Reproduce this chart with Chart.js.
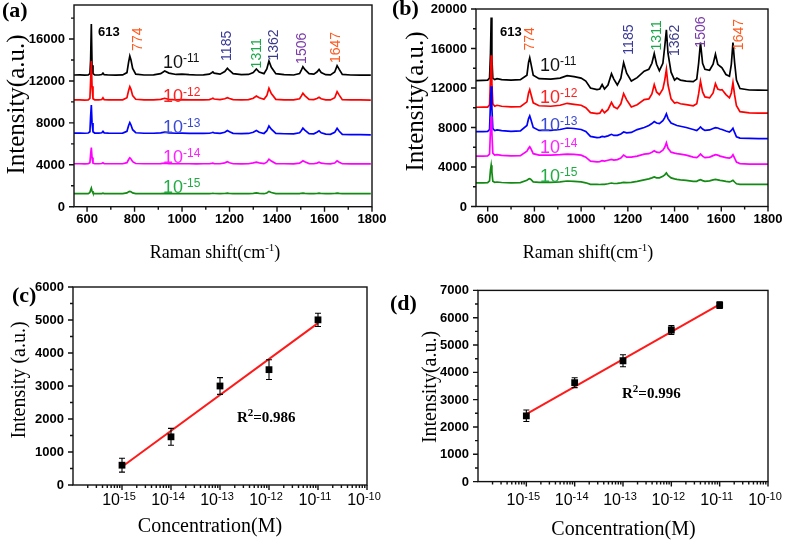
<!DOCTYPE html>
<html><head><meta charset="utf-8">
<script src="https://cdn.jsdelivr.net/npm/chart.js@4.4.1/dist/chart.umd.min.js"></script>
<style>
html,body{margin:0;padding:0;background:#fff;}
#wrap{position:relative;width:787px;height:547px;overflow:hidden;background:#fff;}
#wrap canvas{position:absolute;left:0;top:0;}
</style></head><body>
<div id="wrap">
<canvas id="ca" width="787" height="547"></canvas>
<canvas id="cb" width="787" height="547"></canvas>
<canvas id="cc" width="787" height="547"></canvas>
<canvas id="cd" width="787" height="547"></canvas>
</div>
<script>
// ---------------- DATA ----------------
// Panel (a): Raman shift grid and intensities for 10^-11 ... 10^-15 M
const shiftA = [545,570,590,605,612,615,618,621,625,632,650,662,667,672,690,720,750,768,775,780,785,792,805,840,880,910,927,945,975,1000,1030,1060,1090,1115,1125,1130,1135,1160,1180,1191,1200,1215,1250,1280,1300,1313,1325,1345,1357,1366,1376,1395,1430,1470,1495,1502,1509,1517,1535,1555,1568,1577,1586,1605,1625,1643,1653,1662,1675,1710,1750,1795];
const a_e11 = [12570,12580,12560,12580,12700,14000,17430,13500,12700,12580,12570,12620,12750,12600,12570,12560,12580,12800,13800,14380,14000,13200,12650,12570,12580,12700,12950,12750,12620,12650,12600,12570,12580,12650,12780,12860,12750,12650,12900,13210,13000,12700,12600,12620,12800,13140,12850,12700,13150,13900,13300,12700,12600,12570,12700,13000,13360,13100,12700,12650,12850,13100,12800,12600,12580,12850,13460,13100,12620,12570,12560,12560];
const a_e12 = [10190,10200,10180,10200,10350,12000,13900,11500,10300,10200,10190,10230,10400,10220,10190,10190,10200,10400,11100,11460,11200,10600,10250,10190,10190,10250,10350,10250,10200,10210,10200,10190,10190,10220,10300,10350,10280,10220,10300,10410,10330,10220,10200,10220,10350,10570,10400,10250,10600,11300,10800,10250,10200,10190,10300,10550,10830,10600,10250,10220,10330,10440,10300,10200,10190,10400,10980,10650,10220,10190,10190,10180];
const a_e13 = [7020,7030,7010,7030,7150,8600,9710,8000,7150,7030,7020,7060,7200,7050,7020,7010,7020,7200,7750,8030,7800,7350,7060,7010,7010,7050,7120,7050,7010,7020,7000,6990,6990,7010,7060,7100,7050,7000,7100,7270,7150,7000,6980,6990,7100,7270,7100,6990,7250,7710,7400,7000,6960,6950,7050,7250,7490,7300,6980,6950,7100,7240,7050,6930,6910,7100,7490,7200,6900,6880,6870,6860];
const a_e14 = [4100,4100,4090,4100,4200,5000,5650,4700,4150,4100,4100,4120,4200,4110,4100,4100,4100,4200,4500,4670,4550,4300,4120,4100,4100,4110,4150,4110,4100,4100,4100,4090,4100,4100,4130,4150,4120,4100,4180,4290,4200,4100,4090,4100,4180,4250,4180,4110,4250,4540,4350,4120,4100,4090,4150,4260,4380,4280,4110,4100,4160,4250,4150,4100,4090,4170,4380,4250,4100,4090,4090,4090];
const a_e15 = [1240,1250,1240,1250,1350,1600,1780,1500,1300,1250,1240,1250,1290,1250,1240,1240,1250,1320,1420,1460,1420,1320,1250,1240,1240,1250,1280,1250,1240,1240,1240,1240,1240,1240,1260,1280,1260,1240,1260,1290,1260,1240,1240,1240,1270,1310,1270,1240,1310,1460,1350,1250,1240,1240,1250,1280,1300,1270,1240,1240,1260,1290,1260,1240,1240,1260,1300,1270,1240,1240,1240,1240];

// Panel (b)
const shiftB = [550,580,600,608,612,615,618,622,630,640,660,700,740,768,775,780,785,795,820,870,910,940,970,1000,1020,1040,1068,1080,1090,1100,1115,1130,1140,1155,1170,1182,1195,1215,1240,1270,1290,1303,1313,1323,1335,1350,1358,1365,1372,1385,1400,1410,1425,1450,1480,1495,1503,1511,1520,1530,1550,1565,1575,1585,1595,1603,1620,1635,1643,1650,1657,1665,1680,1720,1760,1800];
const b_e11 = [12750,12780,12800,13000,15500,19150,15000,13000,12850,12950,12850,12800,12850,13300,14600,15070,14500,13300,12950,12900,13000,13250,13150,13000,12700,12000,11840,11900,12350,11900,12300,13440,12900,12300,13000,14560,13500,12700,13050,13700,13900,14500,15480,14400,13750,14500,16200,17890,15500,13600,12800,13000,12800,12700,12650,12900,14500,16600,14500,13900,13800,14400,15410,14400,14200,14050,13370,13200,14400,16600,14600,12800,11950,11800,11780,11770];
const b_e12 = [10050,10060,10070,10300,13000,15310,12500,10400,10150,10250,10150,10080,10100,10600,11500,11840,11400,10500,10200,10150,10250,10450,10350,10250,10000,9500,9400,9450,9800,9500,9800,10540,10100,9900,10400,11430,10800,10070,10300,10820,10900,11400,12350,11600,11330,11900,12800,13880,12300,10900,10480,10550,10400,10310,10200,10400,11400,12690,11600,11100,11000,11500,12450,11900,11800,11840,11330,11000,11500,12550,11300,10200,9600,9480,9460,9460];
const b_e13 = [7580,7590,7600,7800,10500,12170,10000,7900,7700,7750,7680,7600,7650,8200,8900,9180,8800,8000,7700,7700,7800,7950,7900,7800,7600,7100,6970,7000,7100,7050,7150,7310,7200,7200,7350,7540,7450,7500,7790,8000,8200,8400,8600,8450,8400,8700,9000,9390,8900,8450,8300,8200,8130,8000,7800,7700,7850,8060,7850,7700,7750,7900,7990,7950,7850,7800,7650,7550,7700,7930,7500,7050,6920,6900,6880,6870];
const b_e14 = [5100,5100,5120,5300,7800,9110,7500,5400,5200,5250,5180,5120,5150,5600,5900,6050,5850,5350,5200,5200,5250,5310,5280,5200,5000,4600,4520,4550,4650,4600,4680,4760,4700,4750,4900,5200,5000,5000,5100,5300,5350,5500,5640,5500,5450,5700,6000,6460,5900,5500,5400,5350,5300,5200,5000,4950,5100,5310,5100,4950,5000,5150,5250,5200,5100,5050,4950,4900,5000,5250,4900,4500,4350,4300,4290,4290];
const b_e15 = [2400,2400,2420,2600,3700,4180,3500,2550,2450,2480,2430,2400,2420,2650,2780,2820,2750,2500,2450,2450,2500,2580,2550,2500,2400,2250,2240,2230,2250,2250,2300,2380,2330,2350,2400,2450,2420,2450,2550,2700,2800,2900,2990,2900,2900,3050,3200,3400,3150,2900,2800,2750,2700,2650,2550,2550,2650,2720,2620,2550,2600,2700,2750,2700,2650,2620,2550,2500,2550,2650,2480,2300,2250,2240,2240,2240];

// Panels (c), (d): calibration
const concM = [1e-15, 1e-14, 1e-13, 1e-12, 1e-11];
const intensityC = [600, 1460, 3000, 3495, 5005];
const errorC = [210, 255, 255, 300, 200];
const fitConc = [1e-15, 1e-11];
const fitC = [555, 4905];
const intensityD = [2410, 3620, 4425, 5550, 6460];
const errorD = [210, 180, 220, 160, 120];
const fitD = [2470, 6485];

// labels / ticks
const concNames = ['-11', '-12', '-13', '-14', '-15'];
const peakNames = ['774', '1185', '1311', '1362', '1506', '1647'];
const shiftTicks = [600, 800, 1000, 1200, 1400, 1600, 1800];
const shiftMinor = [700, 900, 1100, 1300, 1500, 1700];
const yTicksA = [0, 4000, 8000, 12000, 16000];
const yMinorA = [2000, 6000, 10000, 14000, 18000];
const yTicksB = [0, 4000, 8000, 12000, 16000, 20000];
const yMinorB = [2000, 6000, 10000, 14000, 18000];
const yTicksC = [0, 1000, 2000, 3000, 4000, 5000, 6000];
const yTicksD = [0, 1000, 2000, 3000, 4000, 5000, 6000, 7000];
const concTicks = [1e-15, 1e-14, 1e-13, 1e-12, 1e-11, 1e-10];
const concTickExp = ['-15', '-14', '-13', '-12', '-11', '-10'];

// ---------------- STYLE / LAYOUT ----------------
const FS = "'Liberation Sans', Arial, sans-serif";
const FT = "'Liberation Serif', 'Times New Roman', serif";
const LINE_COLORS = ['#000000', '#ff0000', '#0000ff', '#ff00ff', '#138a13'];
const CONC_COLORS = ['#111111', '#ff2020', '#3a4ad0', '#ff20ff', '#22aa44'];
const PEAK_COLORS = ['#ff5a1f', '#3a3a9a', '#1aa84a', '#3a3a8a', '#7a3aa8', '#ff5a1f'];
const AREA = {
  ca: {l: 74, t: 5, r: 372, b: 206.7},
  cb: {l: 476, t: 9, r: 768, b: 206.5},
  cc: {l: 73, t: 287, r: 367, b: 485},
  cd: {l: 478, t: 290.4, r: 768, b: 481.6}
};
function padOf(A) { return {left: A.l, top: A.t, right: 787 - A.r, bottom: 547 - A.b}; }

function minorLog() {
  const out = [];
  for (let e = -16; e <= -11; e++) for (let m = 2; m <= 9; m++) out.push(m * Math.pow(10, e));
  return out;
}
function minorHalf(ticks) { return ticks.slice(0, -1).map((v, i) => (v + ticks[i + 1]) / 2); }

// positions of text annotations (data coordinates)
const DECO = {
  ca: {
    yMajor: yTicksA, yMinor: yMinorA, xMajor: shiftTicks, xMinor: shiftMinor, xLabelY: 223,
    xTitle: {x: 215, y: 257.5, parts: [['Raman shift(cm', '18px ' + FT, 0], ['-1', '11px ' + FT, -6.5], [')', '18px ' + FT, 0]]},
    yTitle: {x: 17.5, y: 104.5, text: 'Intensity(a.u.)', font: '25px ' + FT},
    panel: {x: 2, y: 17, text: '(a)'},
    p613: {x: 646, y: 16290},
    peaks: [[814, 15983], [1191, 15353], [1318, 14637], [1386, 15430], [1506, 15115], [1647.5, 15191]],
    conc: {x: 920, ys: [13235, 9990, 7004, 4170, 1307]}
  },
  cb: {
    yMajor: yTicksB, yMinor: yMinorB, xMajor: shiftTicks, xMinor: shiftMinor, xLabelY: 223,
    xTitle: {x: 588, y: 257.5, parts: [['Raman shift(cm', '18px ' + FT, 0], ['-1', '11px ' + FT, -6.5], [')', '18px ' + FT, 0]]},
    yTitle: {x: 416, y: 101.5, text: 'Intensity(a.u.)', font: '25px ' + FT},
    panel: {x: 392, y: 15, text: '(b)'},
    p613: {x: 653, y: 17239},
    peaks: [[783, 16985], [1206, 16904], [1327, 17330], [1402, 16822], [1512, 17665], [1677, 17411]],
    conc: {x: 824, ys: [13685, 10477, 7695, 5401, 2518]}
  },
  cc: {
    yMajor: yTicksC, yMinor: minorHalf(yTicksC), xMajor: concTicks, xMinor: minorLog(), log: true, xLabelY: 505,
    xTitle: {x: 210, y: 532, parts: [['Concentration(M)', '20px ' + FT, 0]]},
    yTitle: {x: 20, y: 380, text: 'Intensity (a.u.)', font: '20px ' + FT},
    panel: {x: 12, y: 302, text: '(c)'},
    r2: {x: 2.22e-13, y: 1918, text: '=0.986'},
    err: {v: intensityC, e: errorC}
  },
  cd: {
    yMajor: yTicksD, yMinor: minorHalf(yTicksD), xMajor: concTicks, xMinor: minorLog(), log: true, xLabelY: 505,
    xTitle: {x: 623.5, y: 535, parts: [['Concentration(M)', '20px ' + FT, 0]]},
    yTitle: {x: 431, y: 387, text: 'Intensity(a.u.)', font: '20px ' + FT},
    panel: {x: 390, y: 310, text: '(d)'},
    r2: {x: 9.55e-14, y: 3061, text: '=0.996'},
    err: {v: intensityD, e: errorD}
  }
};

function rich(ctx, x, y, parts, align) {
  let total = 0;
  const w = parts.map(p => { ctx.font = p[1]; const m = ctx.measureText(p[0]).width; total += m; return m; });
  let cx = align === 'center' ? x - total / 2 : x;
  ctx.textAlign = 'left';
  parts.forEach((p, i) => { ctx.font = p[1]; ctx.fillText(p[0], cx, y + p[2]); cx += w[i]; });
}

const decoPlugin = {
  id: 'deco',
  afterDatasetsDraw(chart) {
    const D = DECO[chart.canvas.id];
    if (!D.err) return;
    const ctx = chart.ctx, xs = chart.scales.x, ys = chart.scales.y;
    ctx.save();
    ctx.strokeStyle = '#000'; ctx.lineWidth = 1.1;
    ctx.beginPath();
    concM.forEach((c, i) => {
      const px = xs.getPixelForValue(c);
      const y1 = ys.getPixelForValue(D.err.v[i] + D.err.e[i]);
      const y2 = ys.getPixelForValue(D.err.v[i] - D.err.e[i]);
      ctx.moveTo(px, y1); ctx.lineTo(px, y2);
      ctx.moveTo(px - 3, y1); ctx.lineTo(px + 3, y1);
      ctx.moveTo(px - 3, y2); ctx.lineTo(px + 3, y2);
    });
    ctx.stroke();
    ctx.restore();
  },
  afterDraw(chart) {
    const D = DECO[chart.canvas.id];
    const ctx = chart.ctx, a = chart.chartArea, xs = chart.scales.x, ys = chart.scales.y;
    ctx.save();
    // frame
    ctx.strokeStyle = '#111'; ctx.lineWidth = 1.4;
    ctx.strokeRect(a.left, a.top, a.right - a.left, a.bottom - a.top);
    // ticks
    ctx.beginPath();
    D.yMajor.forEach(v => { const p = ys.getPixelForValue(v); ctx.moveTo(a.left, p); ctx.lineTo(a.left - 5, p); });
    D.yMinor.forEach(v => { const p = ys.getPixelForValue(v); ctx.moveTo(a.left, p); ctx.lineTo(a.left - 3, p); });
    D.xMajor.forEach(v => { const p = xs.getPixelForValue(v); ctx.moveTo(p, a.bottom); ctx.lineTo(p, a.bottom + 5); });
    D.xMinor.forEach(v => { const p = xs.getPixelForValue(v); if (p > a.left && p < a.right) { ctx.moveTo(p, a.bottom); ctx.lineTo(p, a.bottom + 3); } });
    ctx.stroke();
    // y tick labels
    ctx.fillStyle = '#000';
    ctx.font = 'bold 13px ' + FS; ctx.textAlign = 'right'; ctx.textBaseline = 'middle';
    D.yMajor.forEach(v => ctx.fillText(String(v), a.left - 9, ys.getPixelForValue(v) + 0.5));
    // x tick labels
    ctx.textBaseline = 'alphabetic';
    if (D.log) {
      concTicks.forEach((v, i) => rich(ctx, xs.getPixelForValue(v) - 3, D.xLabelY,
        [['10', '16px ' + FS, 0], [concTickExp[i], '11px ' + FS, -5.5]], 'center'));
    } else {
      ctx.font = 'bold 13px ' + FS; ctx.textAlign = 'center';
      D.xMajor.forEach(v => ctx.fillText(String(v), xs.getPixelForValue(v), D.xLabelY));
    }
    // axis titles
    rich(ctx, D.xTitle.x, D.xTitle.y, D.xTitle.parts, 'center');
    ctx.save();
    ctx.translate(D.yTitle.x, D.yTitle.y); ctx.rotate(-Math.PI / 2);
    ctx.font = D.yTitle.font; ctx.textAlign = 'center'; ctx.textBaseline = 'middle';
    ctx.fillText(D.yTitle.text, 0, 0);
    ctx.restore();
    // panel letter
    ctx.font = 'bold 22px ' + FT; ctx.textAlign = 'left'; ctx.textBaseline = 'alphabetic';
    ctx.fillText(D.panel.text, D.panel.x, D.panel.y);
    // spectrum annotations
    if (D.peaks) {
      ctx.fillStyle = '#000'; ctx.font = 'bold 13px ' + FS; ctx.textAlign = 'left';
      ctx.fillText('613', xs.getPixelForValue(D.p613.x), ys.getPixelForValue(D.p613.y));
      D.peaks.forEach((p, i) => {
        ctx.save();
        ctx.translate(xs.getPixelForValue(p[0]), ys.getPixelForValue(p[1]));
        ctx.rotate(-Math.PI / 2);
        ctx.fillStyle = PEAK_COLORS[i]; ctx.font = '14px ' + FS;
        ctx.textAlign = 'center'; ctx.textBaseline = 'middle';
        ctx.fillText(peakNames[i], 0, 0);
        ctx.restore();
      });
      D.conc.ys.forEach((yv, i) => {
        ctx.fillStyle = CONC_COLORS[i];
        rich(ctx, xs.getPixelForValue(D.conc.x), ys.getPixelForValue(yv),
          [['10', '18px ' + FS, 0], [concNames[i], '12px ' + FS, -6]], 'left');
      });
    }
    if (D.r2) {
      ctx.fillStyle = '#000';
      rich(ctx, xs.getPixelForValue(D.r2.x), ys.getPixelForValue(D.r2.y),
        [['R', 'bold 15px ' + FT, 0], ['2', 'bold 11px ' + FT, -6], [D.r2.text, 'bold 15px ' + FT, 0]], 'left');
    }
    ctx.restore();
  }
};

function spectrum(id, xs, series, xMin, yMax) {
  return new Chart(document.getElementById(id), {
    type: 'line',
    data: {
      datasets: series.map((arr, i) => ({
        data: xs.map((x, j) => ({x: x, y: arr[j]})),
        borderColor: LINE_COLORS[i], borderWidth: 1.7, pointRadius: 0, tension: 0, fill: false, order: 5 - i
      }))
    },
    options: {
      responsive: false, animation: false, devicePixelRatio: 1, events: [],
      layout: {padding: padOf(AREA[id])},
      plugins: {legend: {display: false}, tooltip: {enabled: false}},
      scales: {
        x: {type: 'linear', min: xMin, max: 1800, display: false},
        y: {type: 'linear', min: 0, max: yMax, display: false}
      }
    },
    plugins: [decoPlugin]
  });
}

function calib(id, vals, fit, yMax) {
  return new Chart(document.getElementById(id), {
    type: 'scatter',
    data: {
      datasets: [
        {data: concM.map((c, i) => ({x: c, y: vals[i]})), pointStyle: 'rect', pointRadius: 4.8,
         backgroundColor: '#000', borderColor: '#000', borderWidth: 0, showLine: false, order: 0},
        {data: fitConc.map((c, i) => ({x: c, y: fit[i]})), showLine: true, borderColor: '#ff1a1a',
         borderWidth: 2, pointRadius: 0, order: 1}
      ]
    },
    options: {
      responsive: false, animation: false, devicePixelRatio: 1, events: [],
      layout: {padding: padOf(AREA[id])},
      plugins: {legend: {display: false}, tooltip: {enabled: false}},
      scales: {
        x: {type: 'logarithmic', min: 1e-16, max: 1e-10, display: false},
        y: {type: 'linear', min: 0, max: yMax, display: false}
      }
    },
    plugins: [decoPlugin]
  });
}

spectrum('ca', shiftA, [a_e11, a_e12, a_e13, a_e14, a_e15], 545, 19250);
spectrum('cb', shiftB, [b_e11, b_e12, b_e13, b_e14, b_e15], 550, 20000);
calib('cc', intensityC, fitC, 6000);
calib('cd', intensityD, fitD, 7000);
</script>
</body></html>
